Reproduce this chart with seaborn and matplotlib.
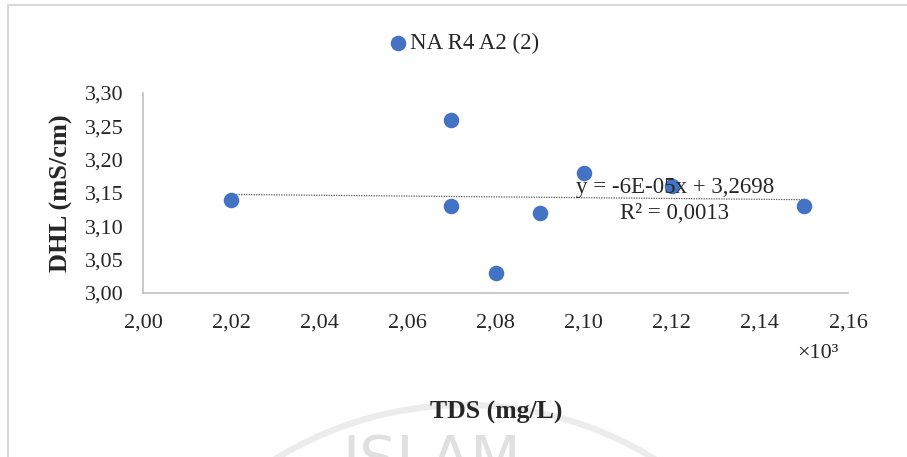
import numpy as np
import pandas as pd
import matplotlib.pyplot as plt
import matplotlib.ticker as mticker
from matplotlib.lines import Line2D
from matplotlib.patches import Circle
import seaborn as sns

# Data (TDS in mg/L, DHL in mS/cm)
tds = [2020, 2070, 2070, 2080, 2090, 2100, 2120, 2150]
dhl = [3.14, 3.26, 3.13, 3.03, 3.12, 3.18, 3.16, 3.13]
series_name = "NA R4 A2 (2)"
x_ticks = [2000, 2020, 2040, 2060, 2080, 2100, 2120, 2140, 2160]
y_ticks = [3.00, 3.05, 3.10, 3.15, 3.20, 3.25, 3.30]

df = pd.DataFrame({"TDS": tds, "DHL": dhl})

sns.set_style("white")
plt.rcParams["font.family"] = ["Liberation Serif", "DejaVu Serif"]

W, H = 907, 457
fig = plt.figure(figsize = (W / 100, H / 100), dpi = 100)
ax = fig.add_axes([143 / W, 1 - 293 / H, 705 / W, 200 / H])

blue = "#4472C4"
sns.scatterplot(data = df, x = "TDS", y = "DHL", color = blue, s = 125,
                linewidth = 0, label = series_name, ax = ax, zorder = 3)

# linear trendline (like Excel)
slope, intercept = np.polyfit(df["TDS"], df["DHL"], 1)
r2 = np.corrcoef(df["TDS"], df["DHL"])[0, 1] ** 2
xs = np.array([min(tds), max(tds)])
ax.plot(xs, slope * xs + intercept, color = "#595959", lw = 0.9,
        linestyle = (0, (1, 1)), zorder = 2)

eq = "y = {}x + {}".format(f"{slope:.0E}", f"{intercept:.4f}".replace(".", ","))
r2_txt = "R² = {}".format(f"{r2:.4f}".replace(".", ","))
fig.text(675 / W, 1 - 187 / H, eq, ha = "center", va = "center", fontsize = 16.5, zorder = 5)
fig.text(675 / W, 1 - 213 / H, r2_txt, ha = "center", va = "center", fontsize = 16.5, zorder = 5)

ax.set_xlim(2000, 2160)
ax.set_ylim(3.00, 3.30)
ax.set_xticks(x_ticks)
ax.set_yticks(y_ticks)
ax.xaxis.set_major_formatter(mticker.FuncFormatter(lambda v, p: f"{v / 1000:.2f}".replace(".", ",")))
ax.yaxis.set_major_formatter(mticker.FuncFormatter(lambda v, p: f"{v:.2f}".replace(".", ",")))
ax.tick_params(axis = "both", length = 0, labelsize = 16)
ax.tick_params(axis = "x", pad = 15)
ax.tick_params(axis = "y", pad = 14)
ax.set_xlabel("")
ax.set_ylabel("")
ax.grid(False)
for side in ["top", "right"]:
    ax.spines[side].set_visible(False)
for side in ["left", "bottom"]:
    ax.spines[side].set_color("#bfbfbf")
    ax.spines[side].set_linewidth(1.2)

fig.text(61 / W, 1 - 193 / H, "DHL (mS/cm)", rotation = 90, ha = "center", va = "center",
         fontsize = 19, fontweight = "bold")
fig.text(496 / W, 1 - 412 / H, "TDS (mg/L)", ha = "center", va = "center",
         fontsize = 18.5, fontweight = "bold", zorder = 5)
fig.text(818 / W, 1 - 354 / H, "×10³", ha = "center", va = "center", fontsize = 16)

ax.legend(loc = "center", bbox_to_anchor = ((463 - 143) / 705, (293 - 43) / 200),
          frameon = False, fontsize = 16.5, handletextpad = 0.0, handlelength = 1.0,
          borderaxespad = 0)

# chart border and faint watermark
fig.add_artist(Line2D([8 / W, 1], [1 - 5 / H, 1 - 5 / H], color = "#d9d9d9", lw = 1.5))
fig.add_artist(Line2D([8 / W, 8 / W], [0, 1 - 5 / H], color = "#d9d9d9", lw = 1.5))
wm = Circle((465, H - 765), 360, transform = None, fill = False,
            edgecolor = "#ececec", lw = 4.5, zorder = 0)
fig.add_artist(wm)
fig.text(432 / W, 1 - 433 / H, "ISLAM", ha = "center", va = "top", fontsize = 42,
         color = "#e0e0e0", family = "DejaVu Sans", zorder = 0)

fig.savefig("out.png", dpi = 100)
